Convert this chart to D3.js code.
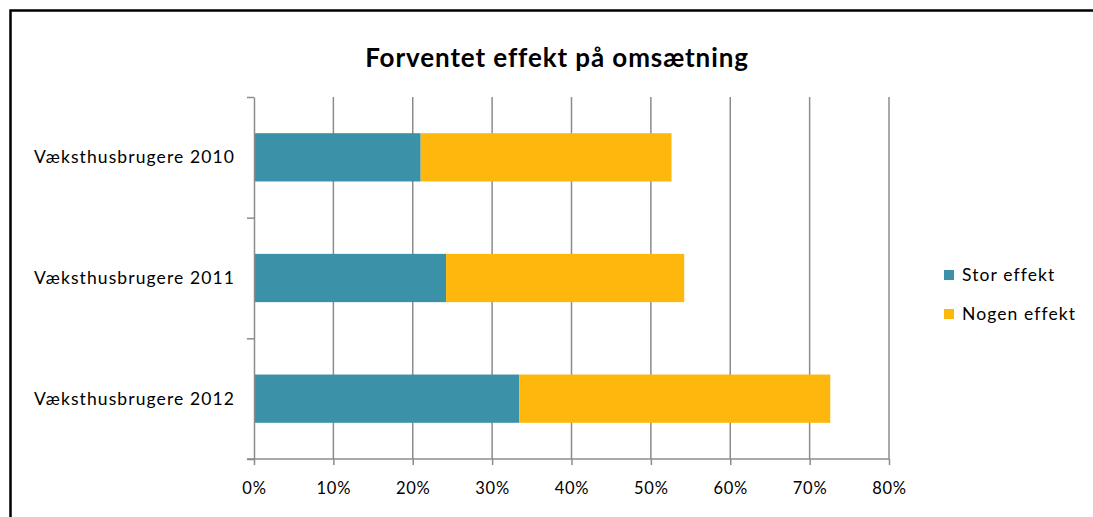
<!DOCTYPE html>
<html>
<head>
<meta charset="utf-8">
<script src="https://cdn.jsdelivr.net/npm/d3@7"></script>
<style>
  body { margin: 0; background: #fff; }
  text { font-family: Lato, "Open Sans", sans-serif; fill: #000; }
</style>
</head>
<body>
<script>
// chart data
const categories = ['Væksthusbrugere 2010', 'Væksthusbrugere 2011', 'Væksthusbrugere 2012']
const storEffekt = [21.0, 24.2, 33.4]
const nogenEffekt = [31.6, 30.0, 39.2]
const seriesNames = ['Stor effekt', 'Nogen effekt']
const seriesColors = ['#3A91A8', '#FEB70D']
const xTicks = [0, 10, 20, 30, 40, 50, 60, 70, 80]

const W = 1093, H = 517
const margin = {top: 97, left: 254, right: 204, bottom: 58}
const plotW = W - margin.left - margin.right
const plotH = H - margin.top - margin.bottom

const svg = d3.select('body').append('svg')
    .attr('width', W)
    .attr('height', H)

// outer frame (runs off the right and bottom edges)
svg.append('rect')
    .attr('x', 10.5).attr('y', 10.5)
    .attr('width', 1200).attr('height', 600)
    .attr('fill', 'none')
    .attr('stroke', '#000')
    .attr('stroke-width', 2.5)

// title
svg.append('text')
    .attr('x', 557).attr('y', 67)
    .attr('text-anchor', 'middle')
    .style('font-size', '26px')
    .style('font-weight', 'bold')
    .style('letter-spacing', '0.9px')
    .text('Forventet effekt på omsætning')

const xScale = d3.scaleLinear()
    .domain([0, 80])
    .range([margin.left, margin.left + plotW])

const yScale = d3.scaleBand()
    .domain(categories)
    .range([margin.top, margin.top + plotH])
    .paddingInner(0.6)
    .paddingOuter(0.3)

// vertical gridlines
svg.append('g')
    .selectAll('line').data(xTicks.slice(1))
    .enter().append('line')
        .attr('x1', d => xScale(d)).attr('x2', d => xScale(d))
        .attr('y1', margin.top).attr('y2', margin.top + plotH)
        .attr('stroke', '#8c8c8c')
        .attr('stroke-width', 1.5)

// stacked bars
const rows = categories.map((c, i) => ({cat: c, stor: storEffekt[i], nogen: nogenEffekt[i]}))
const stack = d3.stack().keys(['stor', 'nogen'])(rows)

svg.append('g')
    .selectAll('g').data(stack)
    .enter().append('g')
        .attr('fill', (d, i) => seriesColors[i])
    .selectAll('rect').data(d => d)
    .enter().append('rect')
        .attr('x', d => xScale(d[0]))
        .attr('width', d => xScale(d[1]) - xScale(d[0]))
        .attr('y', d => yScale(d.data.cat))
        .attr('height', yScale.bandwidth())

// x axis
const xAxis = svg.append('g')
    .attr('transform', 'translate(0,' + (margin.top + plotH) + ')')
    .call(d3.axisBottom(xScale).tickValues(xTicks).tickSizeInner(6).tickSizeOuter(0)
        .tickFormat(d => d + '%'))
xAxis.select('.domain').attr('stroke', '#8c8c8c').attr('stroke-width', 1.5)
    .attr('d', 'M' + (margin.left - 7) + ',0H' + (margin.left + plotW))
xAxis.selectAll('line').attr('stroke', '#8c8c8c').attr('stroke-width', 1.5)
xAxis.selectAll('text')
    .attr('dy', 0).attr('y', 35)
    .style('font-size', '16.5px')
    .style('font-family', 'Lato, sans-serif')
    .style('letter-spacing', '0.8px')

// y axis (ticks between categories)
const yEdge = d3.scaleLinear().domain([0, categories.length]).range([margin.top, margin.top + plotH])
const yAxis = svg.append('g')
    .attr('transform', 'translate(' + margin.left + ',0)')
    .call(d3.axisLeft(yEdge).tickValues(d3.range(categories.length + 1)).tickSizeInner(7).tickSizeOuter(0)
        .tickFormat(''))
yAxis.select('.domain').attr('stroke', '#8c8c8c').attr('stroke-width', 1.5)
yAxis.selectAll('line').attr('stroke', '#8c8c8c').attr('stroke-width', 1.5)

// category labels
svg.append('g')
    .selectAll('text').data(categories)
    .enter().append('text')
        .attr('x', 235)
        .attr('y', d => yScale(d) + yScale.bandwidth() / 2 + 6)
        .attr('text-anchor', 'end')
        .style('font-size', '17.5px')
        .style('letter-spacing', '1.1px')
        .text(d => d)

// legend
const legend = svg.append('g')
    .selectAll('g').data(seriesNames)
    .enter().append('g')
        .attr('transform', (d, i) => 'translate(944,' + (270 + i * 39) + ')')
legend.append('rect')
    .attr('width', 10).attr('height', 10)
    .attr('fill', (d, i) => seriesColors[i])
legend.append('text')
    .attr('x', 18).attr('y', 11)
    .style('font-size', '17.5px')
    .style('letter-spacing', '1.1px')
    .text(d => d)
</script>
</body>
</html>
